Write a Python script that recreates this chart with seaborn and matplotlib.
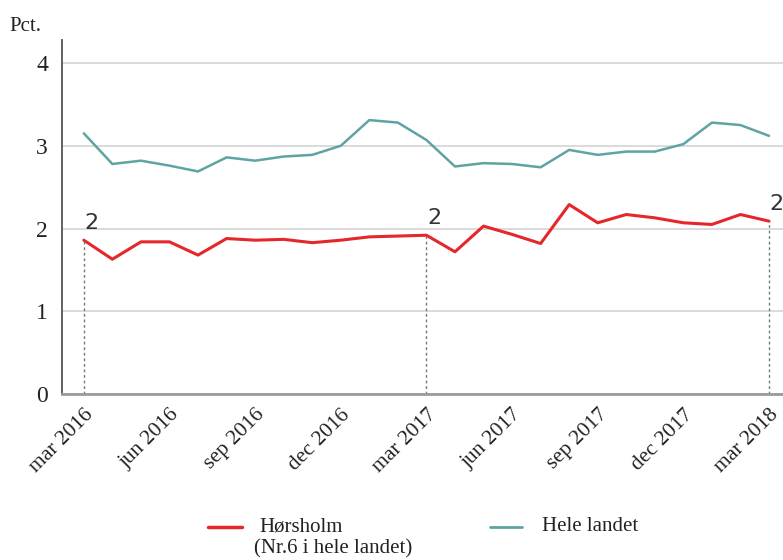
import matplotlib
matplotlib.use("Agg")
import matplotlib.pyplot as plt
import seaborn as sns
import pandas as pd
from matplotlib.lines import Line2D

months = ["mar 2016", "apr 2016", "maj 2016", "jun 2016", "jul 2016", "aug 2016", "sep 2016",
          "okt 2016", "nov 2016", "dec 2016", "jan 2017", "feb 2017", "mar 2017", "apr 2017",
          "maj 2017", "jun 2017", "jul 2017", "aug 2017", "sep 2017", "okt 2017", "nov 2017",
          "dec 2017", "jan 2018", "feb 2018", "mar 2018"]
horsholm = [1.86, 1.63, 1.84, 1.84, 1.68, 1.88, 1.86, 1.87, 1.83, 1.86, 1.90, 1.91, 1.92,
            1.72, 2.03, 1.93, 1.82, 2.29, 2.07, 2.17, 2.13, 2.07, 2.05, 2.17, 2.09]
hele_landet = [3.15, 2.78, 2.82, 2.76, 2.69, 2.86, 2.82, 2.87, 2.89, 3.00, 3.31, 3.28, 3.07,
               2.75, 2.79, 2.78, 2.74, 2.95, 2.89, 2.93, 2.93, 3.02, 3.28, 3.25, 3.12]
tick_months = ["mar 2016", "jun 2016", "sep 2016", "dec 2016", "mar 2017",
               "jun 2017", "sep 2017", "dec 2017", "mar 2018"]
rank_months = ["mar 2016", "mar 2017", "mar 2018"]
rank_labels = ["2", "2", "2"]

label_h = "Hørsholm"
label_h2 = "(Nr.6 i hele landet)"
label_l = "Hele landet"

df = pd.DataFrame({
    "idx": list(range(len(months))) * 2,
    "value": horsholm + hele_landet,
    "series": [label_h] * len(months) + [label_l] * len(months),
})

sns.set_theme(style="white")
plt.rcParams["font.family"] = ["Liberation Serif", "DejaVu Serif"]

fig = plt.figure(figsize=(7.83, 5.60), dpi=100)
ax = fig.add_axes([0.079, 0.296, 0.925, 0.633])

red = "#e5262b"
teal = "#5fa3a3"
sns.lineplot(data=df, x="idx", y="value", hue="series",
             palette={label_h: red, label_l: teal}, ax=ax, legend=False)
for ln, lw in zip(ax.get_lines(), [2.2, 1.8]):
    ln.set_linewidth(lw)

ax.set_xlim(-0.77, 24.6)
ax.set_ylim(0, 4.28)
ax.set_yticks([0, 1, 2, 3, 4])
ax.set_yticklabels(["0", "1", "2", "3", "4"], fontsize=17, color="#222222")
ax.yaxis.grid(True, color="#d4d4d4", linewidth=1.2)
ax.set_axisbelow(True)

tpos = [months.index(m) for m in tick_months]
ax.set_xticks(tpos)
ax.set_xticklabels(tick_months, rotation=45, ha="right", va="top",
                   rotation_mode="anchor", fontsize=15.5, color="#222222")
ax.tick_params(axis="x", direction="out", length=7, width=1.2, color="#777777", pad=1)
ax.tick_params(axis="y", direction="out", length=7, width=1.2, color="#555555", pad=3)
ax.set_xlabel("")
ax.set_ylabel("")

for s in ["top", "right"]:
    ax.spines[s].set_visible(False)
ax.spines["left"].set_color("#555555")
ax.spines["left"].set_linewidth(1.3)
ax.spines["bottom"].set_color("#9a9a9a")
ax.spines["bottom"].set_linewidth(2.0)

for m, lab in zip(rank_months, rank_labels):
    i = months.index(m)
    v = horsholm[i]
    ax.plot([i, i], [0, v], linestyle=(0, (2, 2)), color="#777777", linewidth=1.0)
    ax.text(i + 0.02, v + 0.09, lab, fontsize=16, color="#333333",
            family=["DejaVu Sans"], ha="left", va="bottom")

fig.text(0.012, 0.952, "Pct.", fontsize=15, color="#222222", ha="left", va="center")

lh = Line2D([0.266, 0.309], [0.059, 0.059], transform=fig.transFigure, color=red, linewidth=2.5)
ll = Line2D([0.626, 0.667], [0.059, 0.059], transform=fig.transFigure, color=teal, linewidth=2.0)
fig.add_artist(lh)
fig.add_artist(ll)
fig.text(0.331, 0.059, label_h, fontsize=15, ha="left", va="center", color="#222222")
fig.text(0.324, 0.020, label_h2, fontsize=15, ha="left", va="center", color="#222222")
fig.text(0.692, 0.059, label_l, fontsize=15, ha="left", va="center", color="#222222")

fig.savefig("out.png", dpi=100)
